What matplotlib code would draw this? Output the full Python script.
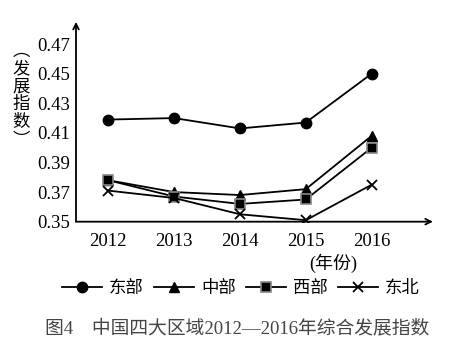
import matplotlib.pyplot as plt

plt.rcParams['font.family'] = ['Liberation Serif', 'Noto Sans CJK SC']

# data
years = [2012, 2013, 2014, 2015, 2016]
east = [0.419, 0.420, 0.413, 0.417, 0.450]
central = [0.378, 0.370, 0.368, 0.372, 0.408]
west = [0.378, 0.367, 0.362, 0.365, 0.400]
northeast = [0.371, 0.366, 0.355, 0.351, 0.375]
region_names = ['东部', '中部', '西部', '东北']
yticks = [0.35, 0.37, 0.39, 0.41, 0.43, 0.45, 0.47]

fig = plt.figure(figsize=(4.57, 3.53), dpi=100)
ax = fig.add_axes([0.1663, 0.372, 0.781, 0.566])

lw = 1.3
ax.plot(years, east, color='black', lw=lw, marker='o', ms=7.5, label=region_names[0])
ax.plot(years, central, color='black', lw=lw, marker='^', ms=7.5, label=region_names[1])
ax.plot(years, west, color='black', lw=lw, marker='s', ms=6.5, mfc='black',
        mec='#888888', mew=1.2, label=region_names[2])
ax.plot(years, northeast, color='black', lw=lw, marker='x', ms=7.5, mew=1.3,
        label=region_names[3])

ax.set_xlim(2011.51, 2016.93)
ax.set_ylim(0.35, 0.485)
ax.set_xticks(years)
ax.set_yticks(yticks)
ax.set_yticklabels(['%.2f' % v for v in yticks])
ax.tick_params(length=0, labelsize=13.5)
ax.tick_params(axis='x', pad=8)
ax.tick_params(axis='y', pad=4)

for s in ax.spines.values():
    s.set_visible(False)
# axis arrows
ax.annotate('', xy=(0, 1), xytext=(0, 0), xycoords='axes fraction',
            arrowprops=dict(arrowstyle='->', lw=1.3, color='black', shrinkA=0, shrinkB=0))
ax.annotate('', xy=(1, 0), xytext=(0, 0), xycoords='axes fraction',
            arrowprops=dict(arrowstyle='->', lw=1.3, color='black', shrinkA=0, shrinkB=0))

# vertical y label
fig.text(0.046, 0.73, '︵\n发\n展\n指\n数\n︶', ha='center', va='center',
         fontsize=12.5, linespacing=1.0, family=['Noto Sans CJK SC'])
fig.text(0.729, 0.255, '(年份)', ha='center', va='center', fontsize=13)

fig.legend(loc='center', bbox_to_anchor=(0.527, 0.182), ncol=4, frameon=False,
           fontsize=12.5, handlelength=2.3, columnspacing=0.6, handletextpad=0.4)

fig.text(0.519, 0.071, '图4　中国四大区域2012—2016年综合发展指数', ha='center',
         va='center', fontsize=13.5, color='#444444')

fig.savefig('out.png', dpi=100)
